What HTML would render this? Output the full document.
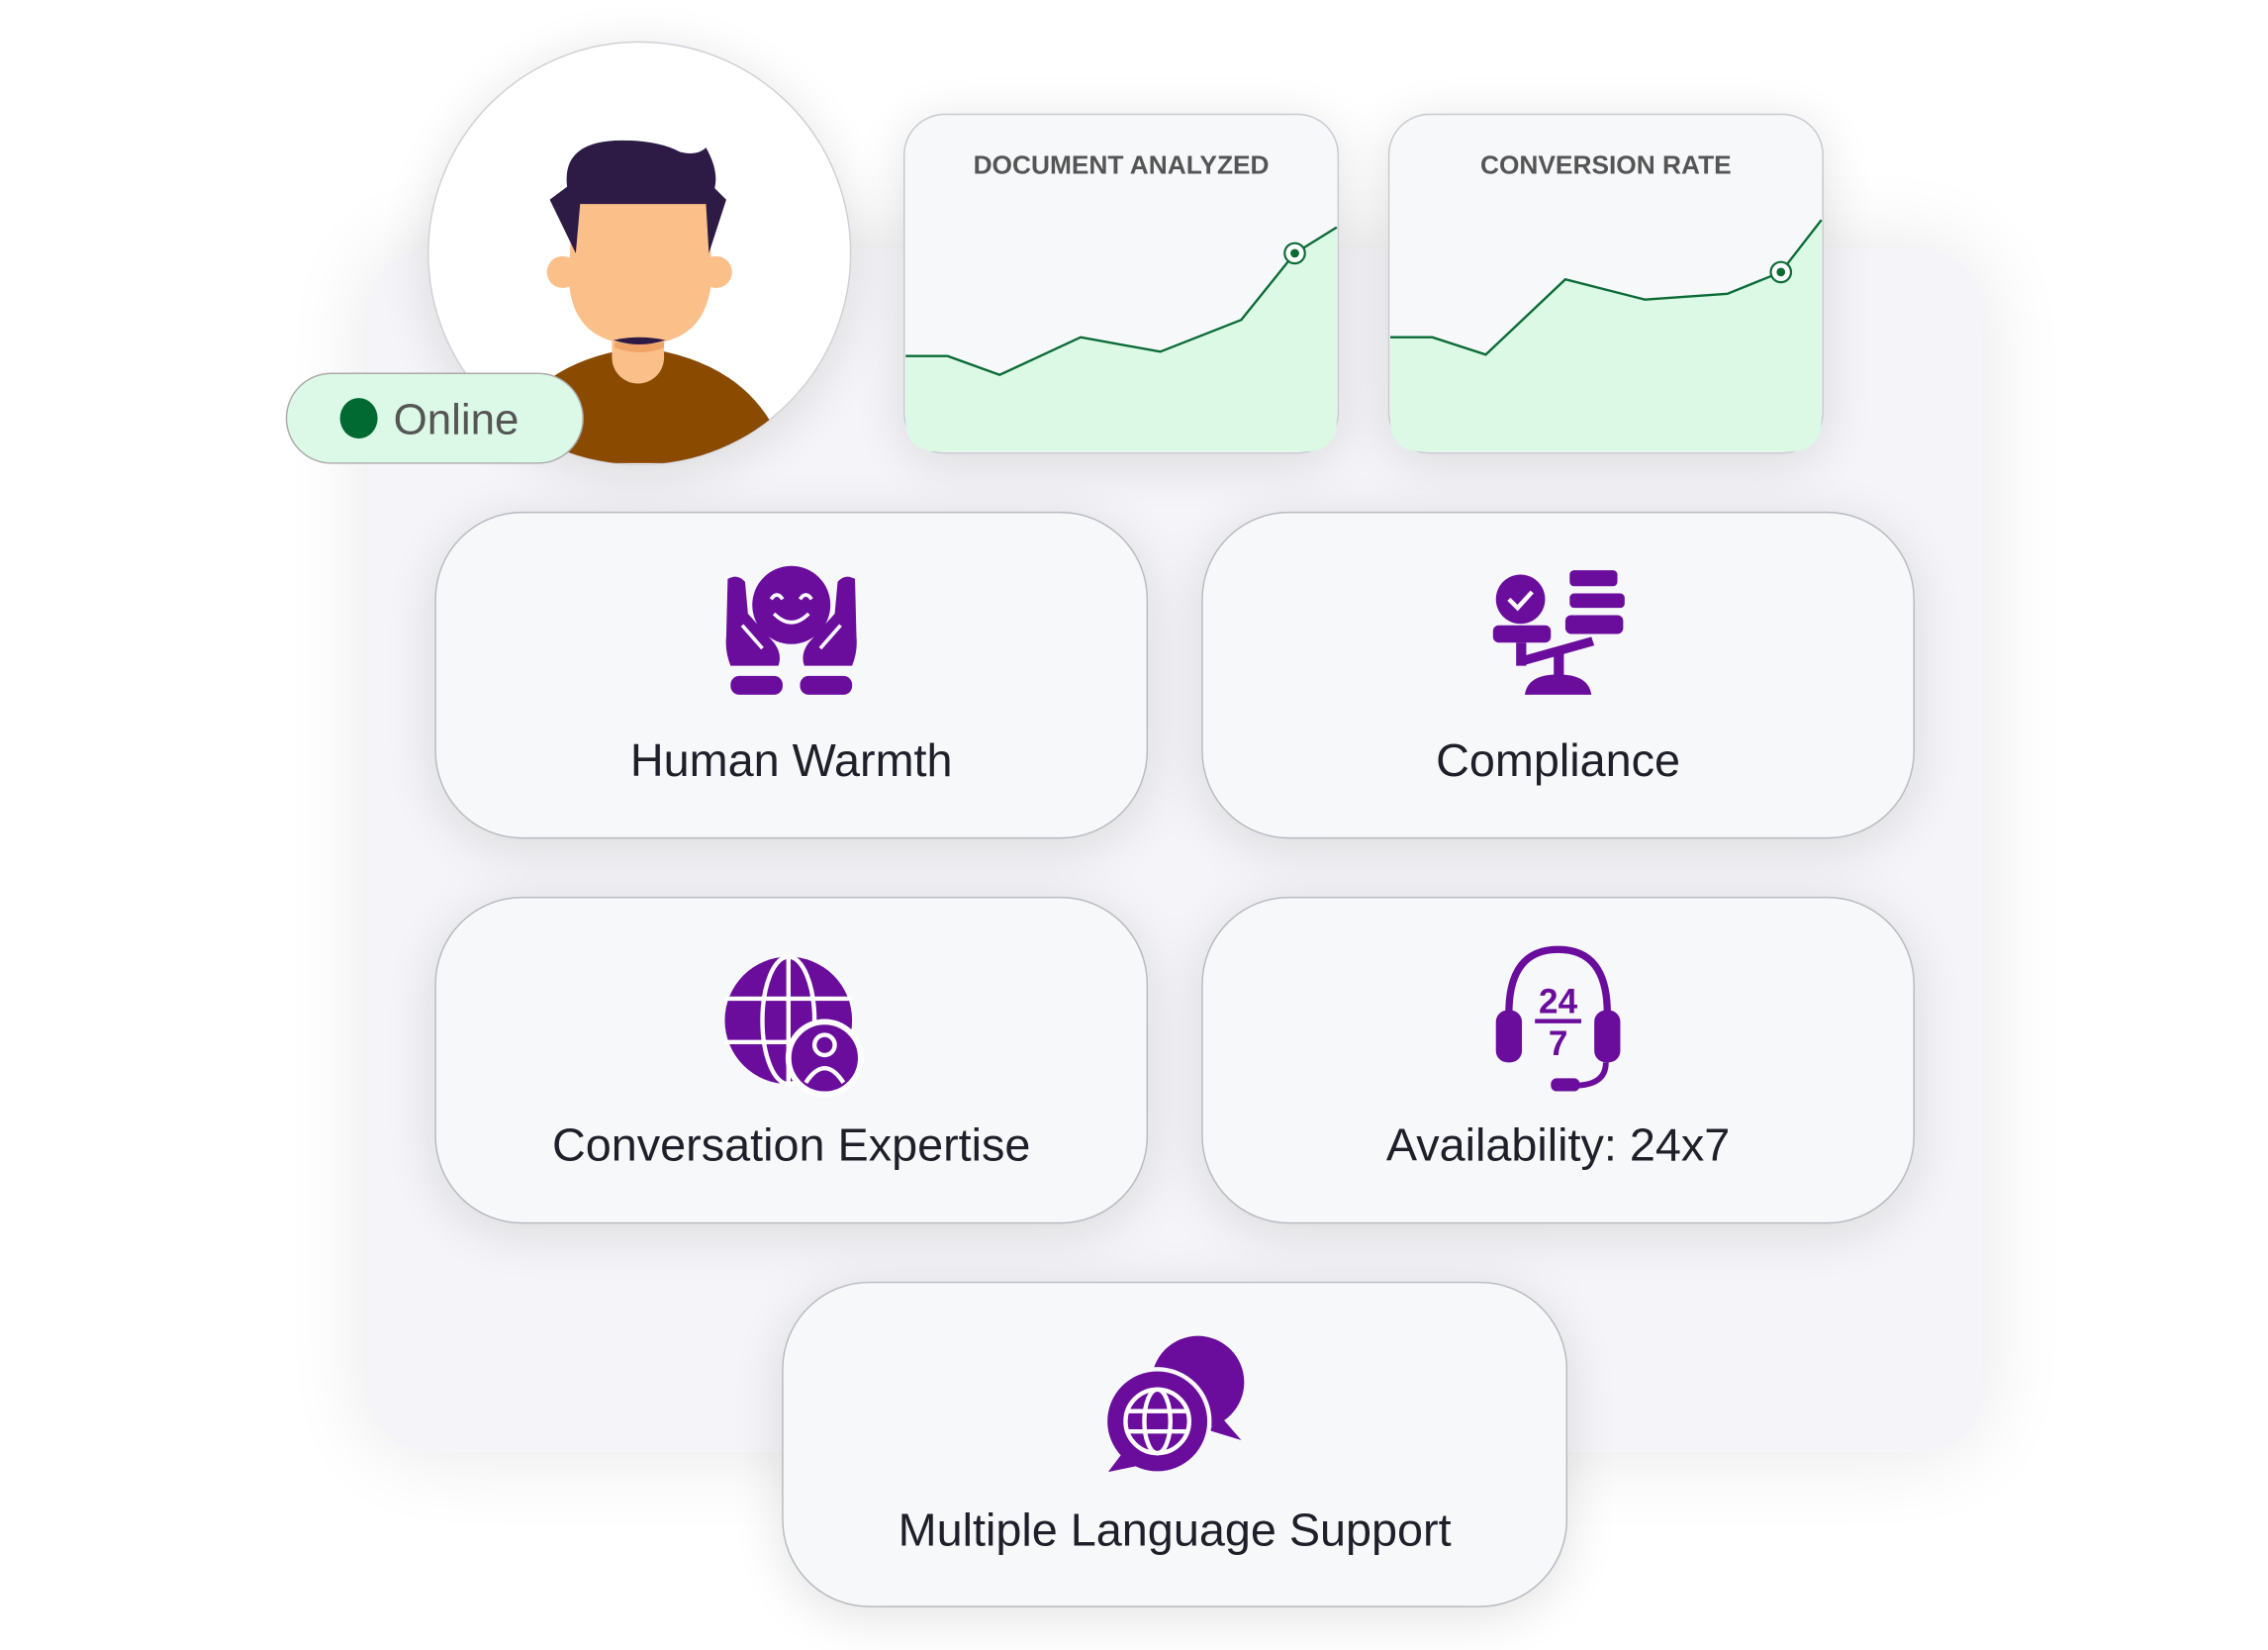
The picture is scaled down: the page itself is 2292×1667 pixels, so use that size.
<!DOCTYPE html>
<html><head><meta charset="utf-8"><style>
html,body{margin:0;padding:0;background:#fff;}
svg{display:block;}
text{font-family:"Liberation Sans",sans-serif;}
</style></head><body>
<svg width="2292" height="1667" viewBox="0 0 1567.7 1140" preserveAspectRatio="none" xmlns="http://www.w3.org/2000/svg">
<defs>
<filter id="sh" x="-30%" y="-30%" width="160%" height="160%"><feGaussianBlur in="SourceAlpha" stdDeviation="18"/><feOffset dy="6"/><feComponentTransfer><feFuncA type="linear" slope="0.12"/></feComponentTransfer><feMerge><feMergeNode/><feMergeNode in="SourceGraphic"/></feMerge></filter>
<filter id="sh2" x="-30%" y="-30%" width="160%" height="160%"><feGaussianBlur in="SourceAlpha" stdDeviation="30"/><feComponentTransfer><feFuncA type="linear" slope="0.10"/></feComponentTransfer><feMerge><feMergeNode/><feMergeNode in="SourceGraphic"/></feMerge></filter>
<clipPath id="av"><circle cx="442" cy="175" r="146"/></clipPath>
</defs>
<rect x="255" y="172" width="1115" height="831" rx="40" fill="#f5f5f9" filter="url(#sh2)"/>

<!-- avatar -->
<circle cx="442" cy="175" r="146" fill="#fff" stroke="#cfcfd6" stroke-width="1" filter="url(#sh)"/>
<g clip-path="url(#av)">
<path d="M340 320 Q360 250 442 240 Q525 250 545 320 Z" fill="#8a4a00"/>
<rect x="423" y="210" width="36" height="55" rx="18" fill="#fbc08a"/>
<path d="M425 230 Q442 240 459 230 L459 240 Q442 247 425 240Z" fill="#f0a468"/>
<circle cx="389" cy="188" r="11" fill="#fbc08a"/><circle cx="495" cy="188" r="11" fill="#fbc08a"/>
<path d="M396 140 L490 140 L492 190 Q490 238 442 238 Q394 238 393 190Z" fill="#fbc08a"/>
<path d="M424 235 Q442 241 460 235 Q442 231 424 235Z" fill="#2d1b45"/>
<path d="M380 138 L392 129 Q388 97 430 97 Q455 97 470 105 Q482 108 488 102 Q497 118 494 130 L502 138 L490 175 L488 141 L401 141 L398 175Z" fill="#2d1b45"/>
</g>
<rect x="198" y="258" width="205" height="62" rx="31" fill="#dcf9e7" stroke="#aaa" stroke-width="1"/>
<ellipse cx="248" cy="289" rx="13" ry="14" fill="#006a32"/>
<text x="272" y="300" font-size="30" fill="#555">Online</text>

<!-- charts -->
<g filter="url(#sh)">
<rect x="625" y="79" width="300" height="234" rx="28" fill="#f7f8fa" stroke="#c8c8cf"/>
<rect x="960" y="79" width="300" height="234" rx="28" fill="#f7f8fa" stroke="#c8c8cf"/>
</g>
<path d="M626 246 L655 246 L691 259 L747 233 L802 243 L858 221 L895 175 L924 157 L924 290 Q924 312 902 312 L648 312 Q626 312 626 290Z" fill="#dcf9e6"/>
<polyline points="626,246 655,246 691,259 747,233 802,243 858,221 895,175 924,157" fill="none" stroke="#0a6b35" stroke-width="1.6"/>
<circle cx="895" cy="175" r="7" fill="#fff" stroke="#0a6b35" stroke-width="1.5"/><circle cx="895" cy="175" r="3" fill="#0a6b35"/>
<path d="M961 233 L990 233 L1027 245 L1082 193 L1137 207 L1194 203 L1231 188 L1259 152 L1259 290 Q1259 312 1237 312 L983 312 Q961 312 961 290Z" fill="#dcf9e6"/>
<polyline points="961,233 990,233 1027,245 1082,193 1137,207 1194,203 1231,188 1259,152" fill="none" stroke="#0a6b35" stroke-width="1.6"/>
<circle cx="1231" cy="188" r="7" fill="#fff" stroke="#0a6b35" stroke-width="1.5"/><circle cx="1231" cy="188" r="3" fill="#0a6b35"/>
<text x="775" y="120" font-size="18" font-weight="bold" fill="#555" text-anchor="middle">DOCUMENT ANALYZED</text>
<text x="1110" y="120" font-size="18" font-weight="bold" fill="#555" text-anchor="middle">CONVERSION RATE</text>

<!-- cards -->
<g filter="url(#sh)" fill="#f7f8fa" stroke="#b8b8c0" stroke-width="1">
<rect x="301" y="354" width="492" height="225" rx="60"/>
<rect x="831" y="354" width="492" height="225" rx="60"/>
<rect x="301" y="620" width="492" height="225" rx="60"/>
<rect x="831" y="620" width="492" height="225" rx="60"/>
<rect x="541" y="886" width="542" height="224" rx="60"/>
</g>
<g font-size="32" fill="#1f1f2a" text-anchor="middle">
<text x="547" y="536">Human Warmth</text>
<text x="1077" y="536">Compliance</text>
<text x="547" y="802">Conversation Expertise</text>
<text x="1077" y="802">Availability: 24x7</text>
<text x="812" y="1068">Multiple Language Support</text>
</g>

<g fill="#6a0d9c">
<!-- human warmth -->
<circle cx="547" cy="418" r="27"/>
<path d="M533 414 q4 -6 8 0 M553 414 q4 -6 8 0 M535 424 q12 12 24 0" stroke="#fff" stroke-width="2.5" fill="none"/>
<path d="M503 400 q7 -4 12 2 l2 22 l18 20 q6 8 3 16 l-33 0 q-4 -10 -3 -20Z"/>
<path d="M591 400 q-7 -4 -12 2 l-2 22 l-18 20 q-6 8 -3 16 l33 0 q4 -10 3 -20Z"/>
<path d="M513 432 l14 16 M581 432 l-14 16" stroke="#f7f8fa" stroke-width="2.5" fill="none"/>
<rect x="505" y="467" width="36" height="13" rx="6"/><rect x="553" y="467" width="36" height="13" rx="6"/>
<!-- compliance -->
<circle cx="1051" cy="414" r="17"/>
<path d="M1043 414 l6 6 l10 -11" stroke="#fff" stroke-width="3" fill="none"/>
<rect x="1085" y="394" width="33" height="11" rx="3"/><rect x="1085" y="410" width="38" height="10" rx="3"/><rect x="1082" y="425" width="40" height="13" rx="4"/>
<rect x="1032" y="432" width="40" height="12" rx="4"/>
<rect x="1048" y="444" width="7" height="16" /><path d="M1050 454 L1100 440 L1102 446 L1052 460Z"/>
<rect x="1074" y="448" width="7" height="22"/>
<path d="M1054 480 Q1056 466 1077 466 Q1098 466 1100 480Z"/>
<!-- globe -->
<circle cx="545" cy="705" r="44"/>
<g stroke="#fff" stroke-width="3" fill="none">
<ellipse cx="545" cy="705" rx="18" ry="44"/><line x1="545" y1="661" x2="545" y2="749"/>
<line x1="501" y1="690" x2="589" y2="690"/><line x1="501" y1="720" x2="589" y2="720"/>
</g>
<circle cx="570" cy="731" r="25" stroke="#fff" stroke-width="4"/>
<circle cx="570" cy="722" r="7" fill="none" stroke="#fff" stroke-width="3"/>
<path d="M557 748 q13 -20 26 0" fill="none" stroke="#fff" stroke-width="3"/>
<!-- headset -->
<path d="M1043 700 q0 -44 34 -44 q34 0 34 44" fill="none" stroke="#6a0d9c" stroke-width="5"/>
<rect x="1034" y="698" width="18" height="36" rx="8"/><rect x="1102" y="698" width="18" height="36" rx="8"/>
<path d="M1110 734 q0 16 -22 16" fill="none" stroke="#6a0d9c" stroke-width="4"/>
<rect x="1072" y="745" width="20" height="9" rx="4"/>
<text x="1077" y="700" font-size="24" font-weight="bold" text-anchor="middle">24</text>
<rect x="1061" y="704" width="32" height="3"/>
<text x="1077" y="729" font-size="24" font-weight="bold" text-anchor="middle">7</text>
<!-- language -->
<circle cx="828" cy="955" r="32"/><path d="M845 980 L858 995 L835 988Z"/>
<circle cx="800" cy="982" r="36" stroke="#f7f8fa" stroke-width="3"/><path d="M775 1005 L766 1017 L790 1012Z"/>
<g stroke="#fff" stroke-width="3" fill="none">
<circle cx="800" cy="982" r="22"/><ellipse cx="800" cy="982" rx="9" ry="22"/>
<line x1="778" y1="975" x2="822" y2="975"/><line x1="778" y1="989" x2="822" y2="989"/>
</g>
</g>
</svg>
</body></html>
